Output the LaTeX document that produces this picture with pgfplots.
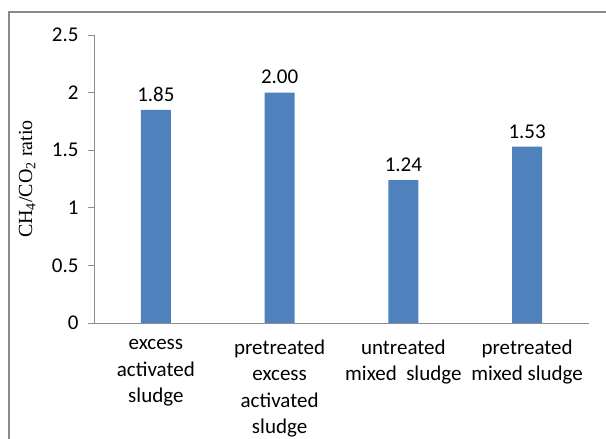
\documentclass[border=0pt]{standalone}
\usepackage{pgfplots}
\pgfplotsset{compat=1.18}
\usepackage{fontspec}
\setmainfont{Carlito}
\newfontfamily\timesfont{Liberation Serif}
\definecolor{barblue}{HTML}{4F81BD}
\definecolor{axisgray}{HTML}{8E8E8E}
\definecolor{framegray}{HTML}{8A8A8A}
\newcommand{\lblfont}{\fontsize{21}{26.5}\selectfont}

\begin{document}
\begin{tikzpicture}[x=1pt,y=1pt]
\useasboundingbox (0,0) rectangle (606,439);
% outer chart frame (cut off at right and bottom)
\draw[framegray, line width=2.2pt] (9,0) -- (9,427) -- (607,427);
\begin{axis}[
    at={(94pt,116pt)}, anchor=south west,
    scale only axis,
    width=495pt, height=288pt,
    xmin=-0.5, xmax=3.5,
    ymin=0, ymax=2.5,
    axis x line=bottom, axis y line=left,
    axis line style={axisgray, -, line width=0.8pt},
    ytick={0,0.5,1,1.5,2,2.5},
    xtick={0,1,2,3},
    xticklabels={excess\\activated\\sludge,
                 pretreated\\excess\\activated\\sludge,
                 untreated\\mixed\ \ sludge,
                 pretreated\\mixed sludge},
    tick align=outside,
    major tick length=6pt,
    ytick style={axisgray, line width=0.8pt},
    xtick style={draw=none},
    xticklabel style={font=\lblfont, text=black, align=center, yshift=-7pt},
    yticklabel style={font=\lblfont, text=black, xshift=-6pt},
    /pgf/number format/assume math mode=true,
    ylabel={\timesfont CH\textsubscript{4}/CO\textsubscript{2} ratio},
    ylabel style={at={(axis description cs:-0.135,0.5)}, anchor=center,
                  font=\fontsize{20}{24}\selectfont},
    ybar, bar width=30pt,
    nodes near coords,
    every node near coord/.append style={font=\lblfont,
        text=black, yshift=5pt,
        /pgf/number format/.cd, fixed, fixed zerofill, precision=2,
        assume math mode=true},
]
\addplot[fill=barblue, draw=none] coordinates {
    (0,1.85) (1,2.00) (2,1.24) (3,1.53)
};
\end{axis}
\end{tikzpicture}
\end{document}
